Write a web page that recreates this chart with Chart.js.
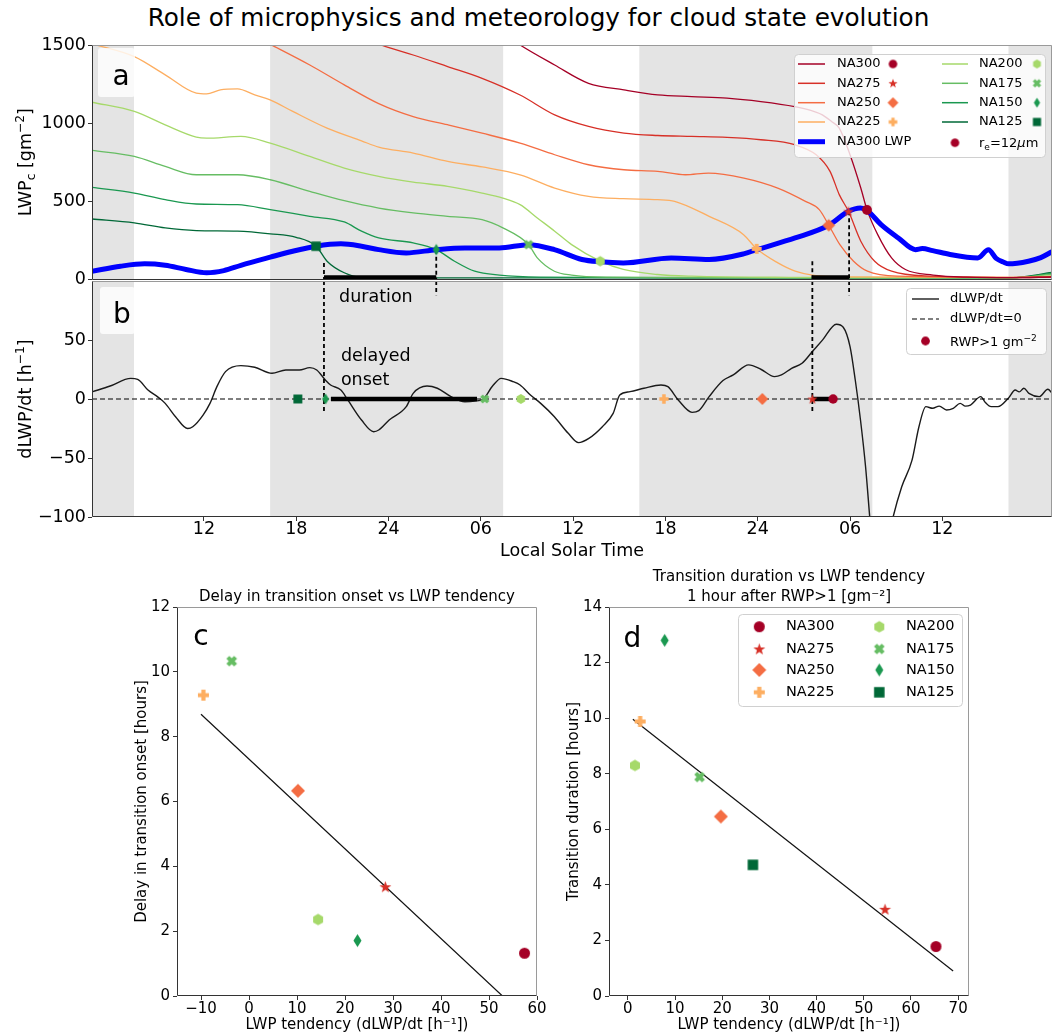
<!DOCTYPE html>
<html>
<head>
<meta charset="utf-8">
<title>Cloud state evolution</title>
<script src="https://cdn.jsdelivr.net/npm/chart.js@4.4.2/dist/chart.umd.min.js"></script>
<style>
  body { margin: 0; background: #fff; }
  #page { position: relative; width: 1059px; height: 1036px; overflow: hidden; font-family: "DejaVu Sans", sans-serif; }
  #title { position: absolute; left: 9px; top: 3px; width: 1059px; text-align: center; font-size: 24.7px; line-height: 30px; color: #000; white-space: nowrap; }
  canvas { position: absolute; }
</style>
</head>
<body>
<div id="page">
  <div id="title">Role of microphysics and meteorology for cloud state evolution</div>
  <canvas id="chartB" width="1059" height="299" style="left:0;top:266px"></canvas>
  <canvas id="chartA" width="1059" height="262" style="left:0;top:30px"></canvas>
  <canvas id="chartC" width="440" height="451" style="left:120px;top:585px"></canvas>
  <canvas id="chartD" width="499" height="476" style="left:560px;top:560px"></canvas>
</div>
<script>
// ================================================================
//   DATA  (hours counted from 00 LST of the first day)
// ================================================================
const naNames  = ["NA300", "NA275", "NA250", "NA225", "NA200", "NA175", "NA150", "NA125"];
const naColors = ["#a50026", "#d73027", "#f46d43", "#fdae61", "#a6d96a", "#66bd63", "#1a9850", "#006837"];
const naShapes = ["o", "*", "D", "P", "h", "X", "d", "s"];

const hourMin = 4.72, hourMax = 67.13;
const tickHours = [12, 18, 24, 30, 36, 42, 48, 54, 60];
const tickText  = ["12", "18", "24", "06", "12", "18", "24", "06", "12"];
const nightStart = [4.72, 16.3, 40.3, 64.3];
const nightEnd   = [7.45, 31.45, 55.45, 67.13];

// cloud LWP of each run [g m-2]
const na300Hr  = [30.5, 32.55, 34.8, 37.0, 39.3, 41.5, 43.7, 46.0, 48.2, 50.4, 51.5, 52.2, 52.8, 53.3, 54.0, 54.7, 55.1, 55.8, 56.7, 57.6, 59.4, 61.6, 64.5, 67.13];
const na300Lwp = [1640, 1500, 1372, 1255, 1213, 1181, 1170, 1160, 1138, 1106, 1080, 1053, 1010, 968, 798, 585, 447, 287, 138, 64, 28, 15, 12, 16];
const na275Hr  = [21.5, 23.36, 25.6, 27.84, 30.08, 32.55, 34.8, 37.0, 39.3, 41.5, 43.7, 46.0, 48.2, 50.4, 51.8, 52.7, 53.3, 53.9, 54.7, 55.6, 56.7, 59.4, 64.5, 67.13];
const na275Lwp = [1560, 1504, 1436, 1362, 1287, 1180, 1053, 979, 936, 921, 915, 909, 894, 862, 798, 692, 543, 436, 245, 117, 53, 21, 12, 16];
const na250Hr  = [15.0, 16.31, 18.88, 21.12, 23.36, 25.6, 27.84, 30.08, 32.55, 34.8, 37.0, 39.3, 41.5, 43.3, 44.8, 47.1, 49.3, 51.1, 52.0, 52.62, 53.34, 54.23, 55.13, 57.1, 64.5, 67.13];
const na250Lwp = [1570, 1504, 1372, 1245, 1125, 1042, 990, 936, 872, 798, 734, 702, 692, 670, 681, 649, 585, 500, 447, 347, 223, 117, 53, 21, 14, 18];
const na225Hr  = [4.72, 7.47, 9.48, 11.5, 12.17, 13.06, 14.18, 15.3, 16.3, 17.77, 20.0, 22.24, 23.36, 25.6, 27.85, 30.09, 32.55, 34.8, 37.0, 39.26, 41.49, 42.6, 44.84, 47.08, 47.93, 49.31, 50.43, 51.55, 53.8, 64.5, 67.13];
const na225Lwp = [1508, 1426, 1309, 1192, 1187, 1213, 1219, 1181, 1149, 1075, 968, 887, 847, 809, 755, 720, 670, 585, 532, 517, 511, 500, 404, 287, 196, 106, 53, 28, 17, 13, 20];
const na200Hr  = [4.72, 7.47, 9.48, 11.5, 12.17, 14.4, 16.31, 18.88, 21.12, 23.36, 25.6, 27.84, 30.08, 31.43, 32.55, 33.67, 34.8, 35.9, 37.76, 39.26, 41.49, 43.7, 50.0, 64.5, 67.13];
const na200Lwp = [1134, 1075, 989, 911, 904, 915, 872, 787, 713, 660, 623, 596, 553, 521, 479, 394, 309, 223, 117, 64, 32, 21, 14, 12, 25];
const na175Hr  = [4.72, 7.47, 9.48, 11.5, 14.18, 16.31, 18.88, 21.12, 23.36, 25.6, 27.84, 30.08, 31.43, 33.1, 33.67, 34.78, 35.9, 38.1, 50.0, 64.5, 67.13];
const na175Lwp = [826, 787, 723, 670, 670, 638, 564, 504, 457, 426, 404, 383, 330, 223, 138, 53, 28, 15, 10, 11, 35];
const na150Hr  = [4.72, 7.47, 9.48, 11.5, 14.18, 16.31, 18.88, 21.12, 22.24, 23.36, 25.6, 27.1, 28.29, 29.6, 31.2, 33.85, 45.0, 64.5, 67.13];
const na150Lwp = [589, 553, 511, 483, 479, 447, 404, 368, 309, 266, 234, 191, 117, 53, 28, 15, 10, 11, 40];
const na125Hr  = [4.72, 7.47, 9.48, 11.5, 14.18, 16.31, 17.99, 19.29, 20.0, 21.12, 22.24, 30.0, 64.5, 67.13];
const na125Lwp = [387, 362, 330, 313, 309, 292, 270, 213, 117, 43, 15, 10, 11, 45];

const lineHr  = [na300Hr, na275Hr, na250Hr, na225Hr, na200Hr, na175Hr, na150Hr, na125Hr];
const lineLwp = [na300Lwp, na275Lwp, na250Lwp, na225Lwp, na200Lwp, na175Lwp, na150Lwp, na125Lwp];

// total LWP of NA300
const lwp300Hr = [4.72, 6.57, 8.14, 9.48, 10.83, 12.17, 13.29, 14.4, 16.31, 17.77, 19.29, 20.9, 22.24, 23.36, 25.15, 27.1, 28.96, 31.2, 33.1, 34.78, 36.57, 37.76, 39.26, 42.38, 44.84, 47.08, 47.93, 50.43, 52.62, 53.9, 54.68, 55.13, 56.02, 57.14, 58.25, 58.7, 59.37, 60.5, 61.6, 62.3, 63.0, 63.5, 64.0, 64.3, 65.6, 66.4, 67.13];
const lwp300   = [53, 85, 100, 91, 64, 43, 57, 91, 143, 181, 213, 228, 213, 191, 170, 191, 202, 202, 223, 191, 128, 113, 106, 138, 128, 164, 191, 266, 347, 436, 457, 440, 351, 266, 191, 198, 185, 160, 143, 138, 190, 135, 110, 100, 117, 140, 178];

// time and LWP at which r_e = 12 um
const reHour = [55.1, 53.9, 52.62, 47.93, 37.76, 33.1, 27.1, 19.29];
const reLwp  = [445, 436, 347, 196, 117, 223, 191, 213];

// NA300 LWP tendency [h-1]
const tendHr = [4.72, 5.9, 7.24, 7.69, 8.36, 9.03, 9.48, 10.15, 10.94, 11.27, 11.94, 12.39, 12.84, 13.4, 14.4, 15.3, 16.42, 17.32, 18.2, 18.88, 19.33, 19.89, 20.23, 20.9, 21.35, 22.24, 23.03, 23.36, 24.04, 25.15, 25.6, 26.5, 27.17, 28.06, 28.96, 30.08, 30.76, 31.32, 32.1, 32.55, 33.22, 33.89, 34.78, 35.68, 36.35, 37.02, 37.9, 38.6, 39.03, 39.7, 40.6, 41.71, 42.16, 42.83, 43.73, 44.17, 44.84, 45.74, 46.41, 47.41, 48.2, 49.09, 49.54, 50.2, 50.88, 51.55, 52.22, 53.11, 53.56, 54.0, 54.34, 54.68, 55.01, 55.28, 55.6, 56.3, 56.8, 57.36, 58.03, 58.48, 58.93, 59.37, 59.8, 60.27, 60.71, 61.16, 61.5, 61.83, 62.5, 62.8, 63.17, 63.62, 64.29, 64.74, 65.0, 65.3, 65.63, 66.3, 66.86, 67.13];
const tendVal = [6, 11, 17.5, 16.7, 7.6, 1.4, -3.7, -15, -25, -23.5, -13.6, -3.7, 10.5, 23.2, 28.3, 26.9, 21.8, 24.6, 24.6, 26.6, 24.6, 16.1, 11.9, 7.6, -0.8, -17.8, -27.7, -26.3, -17.8, -6.5, 4.8, 11, 9.1, 2, -2.3, -0.8, 11, 17.5, 14.7, 11.9, 3.4, -3.7, -15, -29.1, -37, -33.4, -23.5, -12.2, 3.4, 6.2, 9.1, 11.9, 10.5, -0.8, -11.3, -9.9, 2, 15.6, 20.4, 28.9, 25.2, 19, 20.4, 26, 30.3, 40.2, 50.1, 63.4, 60.8, 44.4, 16.1, -17.8, -57.4, -100, -150, -130, -100, -74.4, -51.8, -23.5, -6.5, -7.9, -6, -9.3, -7.9, -3.7, -6, -5.1, 2, -3, -6.5, -6.5, 0.6, 7.6, 6, 9.1, 4.8, 2, 8.2, 5];

// time at which RWP > 1 g m-2
const onsetHour = [52.9, 51.55, 48.3, 41.9, 32.6, 30.25, 19.9, 18.1];

// guide lines and bars (NA150 and NA275 examples)
const guideHr      = [19.8, 27.1, 51.55, 53.94];
const guideTopLwp  = [106, 191, 117, 436];
const guideLowTend = [-11, 88, -12, 88];
const durStart   = [19.8, 51.55], durEnd   = [27.1, 53.94];
const delayStart = [20.25, 51.55], delayEnd = [29.75, 52.9];

// panel c: delay in onset vs tendency (no NA125 point)
const delayTend  = [57.4, 28.4, 10.2, -9.5, 14.4, -3.6, 22.6, null];
const delayHours = [1.32, 3.37, 6.33, 9.28, 2.36, 10.33, 1.71, null];
const fitCX = [-10, 52.8], fitCY = [8.69, 0];

// panel d: transition duration vs tendency
const durTend  = [65.3, 54.5, 19.7, 2.6, 1.5, 15.2, 7.8, 26.5];
const durHours = [1.78, 3.12, 6.46, 9.88, 8.3, 7.88, 12.8, 4.72];
const fitDX = [1.06, 68.94], fitDY = [9.96, 0.9];

// ================================================================
//   HELPERS
// ================================================================
Chart.defaults.font.family = '"DejaVu Sans", sans-serif';
Chart.defaults.color = "#000";
Chart.defaults.animation = false;

const FONT = '"DejaVu Sans", sans-serif';
const pts = (xs, ys) => xs.map((x, i) => ({ x, y: ys[i] })).filter(p => p.x !== null && p.y !== null);
const minus = v => String(v).replace("-", "\u2212");

// filled matplotlib-like markers as small canvases
function makeMarker(shape, color, k) {
  const base = { o: 11, s: 10.5, D: 14, d: 13, "*": 12.5, P: 11, X: 11, h: 11.5 }[shape] * k;
  const n = Math.ceil(base) + 2;
  const c = document.createElement("canvas");
  c.width = c.height = n;
  const g = c.getContext("2d");
  g.translate(n / 2, n / 2);
  g.fillStyle = color;
  const r = base / 2;
  g.beginPath();
  const poly = p => p.forEach(([x, y], i) => i ? g.lineTo(x, y) : g.moveTo(x, y));
  if (shape === "o") g.arc(0, 0, r, 0, Math.PI * 2);
  else if (shape === "s") g.rect(-r, -r, 2 * r, 2 * r);
  else if (shape === "D") poly([[0, -r], [r, 0], [0, r], [-r, 0]]);
  else if (shape === "d") poly([[0, -r], [r * 0.62, 0], [0, r], [-r * 0.62, 0]]);
  else if (shape === "h") poly([0, 1, 2, 3, 4, 5].map(i => [r * Math.cos(-Math.PI / 2 + i * Math.PI / 3), r * Math.sin(-Math.PI / 2 + i * Math.PI / 3)]));
  else if (shape === "*") poly([...Array(10).keys()].map(i => {
    const a = -Math.PI / 2 + i * Math.PI / 5, rr = i % 2 ? r * 0.4 : r;
    return [rr * Math.cos(a), rr * Math.sin(a) + r * 0.08];
  }));
  else {
    const w = r * 0.38;
    let p = [[-w, -r], [w, -r], [w, -w], [r, -w], [r, w], [w, w], [w, r], [-w, r], [-w, w], [-r, w], [-r, -w], [-w, -w]];
    if (shape === "X") {
      const cs = Math.SQRT1_2;
      p = p.map(([x, y]) => [(x - y) * cs, (x + y) * cs]);
    }
    poly(p);
  }
  g.closePath();
  g.fill();
  return c;
}
function putMarker(ctx, m, x, y) { ctx.drawImage(m, x - m.width / 2, y - m.height / 2); }

// text with sub/superscripts; parts = [{t, sub|sup}]
function drawRich(ctx, x, y, parts, size, opts = {}) {
  ctx.save();
  ctx.translate(x, y);
  if (opts.rotate) ctx.rotate(-Math.PI / 2);
  ctx.fillStyle = "#000";
  ctx.textBaseline = opts.baseline || "alphabetic";
  ctx.textAlign = "left";
  const fontOf = p => `${p.italic ? "italic " : ""}${(p.sub || p.sup) ? size * 0.7 : size}px ${FONT}`;
  let total = 0;
  parts.forEach(p => { ctx.font = fontOf(p); total += ctx.measureText(p.t).width; });
  let cx = opts.align === "left" ? 0 : -total / 2;
  parts.forEach(p => {
    ctx.font = fontOf(p);
    const dy = p.sub ? size * 0.22 : p.sup ? -size * 0.42 : 0;
    ctx.fillText(p.t, cx, dy);
    cx += ctx.measureText(p.t).width;
  });
  ctx.restore();
}

function shadeNights(chart) {
  const { ctx, chartArea: a, scales: { x } } = chart;
  ctx.save();
  ctx.fillStyle = "#e4e4e4";
  nightStart.forEach((s, i) => {
    const x1 = Math.max(x.getPixelForValue(s), a.left);
    const x2 = Math.min(x.getPixelForValue(nightEnd[i]), a.right);
    ctx.fillRect(x1, a.top, x2 - x1, a.bottom - a.top);
  });
  ctx.restore();
}

function drawFrame(chart) {
  const { ctx, chartArea: a } = chart;
  const L = Math.round(a.left) + 0.5, R = Math.round(a.right) - 0.5;
  const T = Math.round(a.top) + 0.5, B = Math.round(a.bottom) - 0.5;
  const seg = (x1, y1, x2, y2, c) => {
    ctx.strokeStyle = c; ctx.beginPath(); ctx.moveTo(x1, y1); ctx.lineTo(x2, y2); ctx.stroke();
  };
  ctx.save();
  ctx.lineWidth = 1;
  seg(L, T, R, T, "#9a9a9a");
  seg(R, T, R, B, "#9a9a9a");
  seg(L, T, L, B, "#333");
  seg(L, B, R, B, "#333");
  ctx.restore();
}

function drawTag(ctx, bx, by, bw, bh, letter, tx, ty, boxed) {
  ctx.save();
  if (boxed) {
    ctx.fillStyle = "rgba(255,255,255,0.8)";
    ctx.beginPath();
    ctx.roundRect(bx, by, bw, bh, 3);
    ctx.fill();
  }
  ctx.fillStyle = "#000";
  ctx.font = `28px ${FONT}`;
  ctx.textAlign = "center";
  ctx.textBaseline = "alphabetic";
  ctx.fillText(letter, tx, ty);
  ctx.restore();
}

// subplot title centred over the plot area
function drawTitleLines(chart, lines, firstY, step) {
  const { ctx, chartArea: a } = chart;
  ctx.save();
  ctx.fillStyle = "#000";
  ctx.font = `15px ${FONT}`;
  ctx.textAlign = "center";
  ctx.textBaseline = "middle";
  lines.forEach((t, i) => ctx.fillText(t, (a.left + a.right) / 2, firstY + i * step));
  ctx.restore();
}

function legendBox(ctx, x, y, w, h) {
  ctx.save();
  ctx.fillStyle = "rgba(255,255,255,0.8)";
  ctx.strokeStyle = "#d0d0d0";
  ctx.lineWidth = 1;
  ctx.beginPath();
  ctx.roundRect(x + 0.5, y + 0.5, w, h, 4);
  ctx.fill();
  ctx.stroke();
  ctx.restore();
}

function legendLine(ctx, x1, x2, y, color, width, dash) {
  ctx.save();
  ctx.strokeStyle = color;
  ctx.lineWidth = width;
  ctx.setLineDash(dash || []);
  ctx.beginPath(); ctx.moveTo(x1, y); ctx.lineTo(x2, y); ctx.stroke();
  ctx.restore();
}

function legendText(ctx, text, x, y, size) {
  ctx.save();
  ctx.fillStyle = "#000";
  ctx.font = `${size}px ${FONT}`;
  ctx.textAlign = "left";
  ctx.textBaseline = "middle";
  ctx.fillText(text, x, y);
  ctx.restore();
}

const tickGrid = { drawOnChartArea: false, drawTicks: true, tickLength: 4, tickWidth: 1, tickColor: "#333" };

function hourAxis(show) {
  const ax = {
    type: "linear", min: hourMin, max: hourMax, display: show,
    afterBuildTicks: s => { s.ticks = tickHours.map(v => ({ value: v })); },
    ticks: { callback: v => tickText[tickHours.indexOf(v)], font: { size: 17.5, lineHeight: 1 }, padding: 0, maxRotation: 0, autoSkip: false },
    grid: tickGrid, border: { display: false },
    title: { display: show, text: "Local Solar Time", font: { size: 17.5, lineHeight: 1.2 }, padding: { top: 0, bottom: 3.5 } }
  };
  if (show) ax.afterFit = s => { s.height = 48; };
  return ax;
}

function valueAxis(min, max, list, width, size, pad, title, titlePad) {
  return {
    type: "linear", min, max,
    afterBuildTicks: s => { s.ticks = list.map(v => ({ value: v })); },
    afterFit: s => { s.width = width; },
    ticks: { callback: v => minus(v), font: { size }, padding: pad },
    grid: tickGrid, border: { display: false },
    title: title ? { display: true, text: title, font: { size: 15, lineHeight: 1.2 }, padding: { top: titlePad, bottom: 0 } } : { display: false }
  };
}

function tendAxis(min, max, list) {
  return Object.assign(valueAxis(min, max, list, 0, 15, 0.5, null), {
    afterFit: s => { s.height = 40; },
    title: { display: true, text: "LWP tendency (dLWP/dt [h\u207b\u00b9])", font: { size: 15, lineHeight: 1.2 }, padding: { top: 0, bottom: 1.5 } }
  });
}

function lineSet(data, color, width, extra) {
  return Object.assign({ type: "line", data, borderColor: color, borderWidth: width, pointRadius: 0, fill: false }, extra || {});
}

const noPlugins = { legend: { display: false }, tooltip: { enabled: false }, title: { display: false } };

// ================================================================
//   PANEL A — cloud LWP
// ================================================================
const markA = naShapes.map((s, i) => makeMarker(s, naColors[i], 0.9));
const dsA = [];
lineHr.forEach((hr, i) => dsA.push(lineSet(pts(hr, lineLwp[i]), naColors[i], 1.3, { cubicInterpolationMode: "monotone", order: 3 })));
dsA.push(lineSet(pts(lwp300Hr, lwp300), "#0000ff", 5, { cubicInterpolationMode: "monotone", order: 2 }));
durStart.forEach((s, i) => dsA.push(lineSet([{ x: s, y: 12 }, { x: durEnd[i], y: 12 }], "#000", 4.5, { order: 1, clip: false })));
guideHr.forEach((h, i) => dsA.push(lineSet([{ x: h, y: guideTopLwp[i] }, { x: h, y: 0 }], "#000", 1.8, { borderDash: [4, 3], order: 1 })));
dsA.push(lineSet(pts(reHour, reLwp), "#000", 0, { showLine: false, pointRadius: 5, pointStyle: markA, order: 0 }));

const panelA = {
  id: "panelA",
  beforeDatasetsDraw: shadeNights,
  afterDatasetsDraw(chart) {
    const ctx = chart.ctx, a = chart.chartArea;
    drawFrame(chart);
    drawTag(ctx, 98, 18, 37, 49, "a", 121, 55, true);
    drawRich(ctx, 31, (a.top + a.bottom) / 2,
      [{ t: "LWP" }, { t: "c", sub: true }, { t: " [gm" }, { t: "\u22122", sup: true }, { t: "]" }], 17.5, { rotate: true });
    // legend
    legendBox(ctx, 794, 24, 251, 103);
    const rows = [34, 53.3, 72.7, 92, 111.7];
    const legMark = naShapes.map((s, i) => makeMarker(s, naColors[i], 0.78));
    for (let i = 0; i < 4; i++) {
      legendLine(ctx, 798, 825, rows[i], naColors[i], 1.5);
      legendText(ctx, naNames[i], 837, rows[i], 13);
      putMarker(ctx, legMark[i], 893, rows[i]);
      legendLine(ctx, 942, 968, rows[i], naColors[i + 4], 1.5);
      legendText(ctx, naNames[i + 4], 979, rows[i], 13);
      putMarker(ctx, legMark[i + 4], 1037, rows[i]);
    }
    legendLine(ctx, 798, 825, rows[4], "#0000ff", 5);
    legendText(ctx, "NA300 LWP", 837, rows[4], 13);
    putMarker(ctx, legMark[0], 955, rows[4] + 1);
    drawRich(ctx, 979, rows[4] + 5, [{ t: "r" }, { t: "e", sub: true }, { t: "=12" }, { t: "\u03bc", italic: true }, { t: "m" }], 13, { align: "left" });
  }
};

new Chart(document.getElementById("chartA"), {
  type: "line",
  data: { datasets: dsA },
  options: {
    responsive: false, animation: false, events: [],
    layout: { padding: { top: 15, right: 7, bottom: 11, left: 0 } },
    plugins: noPlugins,
    scales: {
      x: hourAxis(false),
      y: valueAxis(0, 1500, [0, 500, 1000, 1500], 92, 17.5, 2, null)
    }
  },
  plugins: [panelA]
});

// ================================================================
//   PANEL B — LWP tendency
// ================================================================
const markB = naShapes.map((s, i) => makeMarker(s, naColors[i], 0.85));
const dsB = [];
dsB.push(lineSet(pts(tendHr, tendVal), "#1a1a1a", 1.4, { cubicInterpolationMode: "monotone", order: 3 }));
dsB.push(lineSet([{ x: hourMin, y: 0 }, { x: hourMax, y: 0 }], "#000", 1.2, { borderDash: [5, 3], order: 2 }));
delayStart.forEach((s, i) => dsB.push(lineSet([{ x: s, y: 0 }, { x: delayEnd[i], y: 0 }], "#000", 4.5, { order: 1 })));
guideHr.forEach((h, i) => dsB.push(lineSet([{ x: h, y: 100 }, { x: h, y: guideLowTend[i] }], "#000", 1.8, { borderDash: [4, 3], order: 1 })));
dsB.push(lineSet(onsetHour.map(h => ({ x: h, y: 0 })), "#000", 0, { showLine: false, pointRadius: 5, pointStyle: markB, order: 0 }));

const panelB = {
  id: "panelB",
  beforeDatasetsDraw: shadeNights,
  afterDatasetsDraw(chart) {
    const ctx = chart.ctx, a = chart.chartArea, { x, y } = chart.scales;
    drawFrame(chart);
    drawTag(ctx, 100, 21, 35, 47, "b", 122, 57, true);
    drawRich(ctx, 31, (a.top + a.bottom) / 2,
      [{ t: "dLWP/dt [h" }, { t: "\u22121", sup: true }, { t: "]" }], 17.5, { rotate: true });
    // annotations
    legendText(ctx, "duration", x.getPixelForValue(20.78), y.getPixelForValue(85.7), 17.5);
    legendText(ctx, "delayed", x.getPixelForValue(20.9), y.getPixelForValue(35.7), 17.5);
    legendText(ctx, "onset", x.getPixelForValue(20.9), y.getPixelForValue(16.1), 17.5);
    // legend
    legendBox(ctx, 906, 22, 140, 66);
    legendLine(ctx, 912, 939, 33, "#1a1a1a", 1.4);
    legendText(ctx, "dLWP/dt", 950, 33, 13);
    legendLine(ctx, 912, 939, 53, "#000", 1.2, [5, 3]);
    legendText(ctx, "dLWP/dt=0", 950, 53, 13);
    putMarker(ctx, makeMarker("o", naColors[0], 0.8), 925.5, 75);
    drawRich(ctx, 950, 80, [{ t: "RWP>1 gm" }, { t: "\u22122", sup: true }], 13, { align: "left" });
  }
};

new Chart(document.getElementById("chartB"), {
  type: "line",
  data: { datasets: dsB },
  options: {
    responsive: false, animation: false, events: [],
    layout: { padding: { top: 15, right: 7, bottom: 0, left: 0 } },
    plugins: noPlugins,
    scales: {
      x: hourAxis(true),
      y: valueAxis(-100, 100, [-100, -50, 0, 50], 92, 17.5, 2, null)
    }
  },
  plugins: [panelB]
});

// ================================================================
//   PANEL C — delay in onset
// ================================================================
const markCD = naShapes.map((s, i) => makeMarker(s, naColors[i], 1));
const cIdx = delayTend.map((v, i) => i).filter(i => delayTend[i] !== null);

new Chart(document.getElementById("chartC"), {
  type: "line",
  data: {
    datasets: [
      lineSet(pts(fitCX, fitCY), "#111", 1.2, { order: 1 }),
      lineSet(cIdx.map(i => ({ x: delayTend[i], y: delayHours[i] })), "#000", 0,
        { showLine: false, pointRadius: 5, pointStyle: cIdx.map(i => markCD[i]), order: 0 })
    ]
  },
  options: {
    responsive: false, animation: false, events: [],
    layout: { padding: { top: 22, right: 23, bottom: 0, left: 0 } },
    plugins: noPlugins,
    scales: {
      x: tendAxis(-15, 60, [-10, 0, 10, 20, 30, 40, 50, 60]),
      y: valueAxis(0, 12, [0, 2, 4, 6, 8, 10, 12], 57, 15, 3, "Delay in transition onset [hours]", 13)
    }
  },
  plugins: [{
    id: "panelC",
    afterDatasetsDraw(chart) {
      drawFrame(chart);
      drawTitleLines(chart, ["Delay in transition onset vs LWP tendency"], 12, 0);
      drawTag(chart.ctx, 0, 0, 0, 0, "c", 81, 60, false);
    }
  }]
});

// ================================================================
//   PANEL D — transition duration
// ================================================================
new Chart(document.getElementById("chartD"), {
  type: "line",
  data: {
    datasets: [
      lineSet(pts(fitDX, fitDY), "#111", 1.2, { order: 1 }),
      lineSet(pts(durTend, durHours), "#000", 0, { showLine: false, pointRadius: 5, pointStyle: markCD, order: 0 })
    ]
  },
  options: {
    responsive: false, animation: false, events: [],
    layout: { padding: { top: 47, right: 90, bottom: 0, left: 0 } },
    plugins: noPlugins,
    scales: {
      x: tendAxis(-4, 72.3, [0, 10, 20, 30, 40, 50, 60, 70]),
      y: valueAxis(0, 14, [0, 2, 4, 6, 8, 10, 12, 14], 49, 15, 3, "Transition duration [hours]", 5)
    }
  },
  plugins: [{
    id: "panelD",
    afterDatasetsDraw(chart) {
      const ctx = chart.ctx;
      drawFrame(chart);
      drawTitleLines(chart, ["Transition duration vs LWP tendency", "1 hour after RWP>1 [gm\u207b\u00b2]"], 17, 20);
      drawTag(ctx, 0, 0, 0, 0, "d", 72.5, 87, false);
      legendBox(ctx, 178, 54, 224, 92);
      const rows = [66.7, 89, 110, 132.3];
      for (let i = 0; i < 4; i++) {
        putMarker(ctx, markCD[i], 199.3, rows[i]);
        legendText(ctx, naNames[i], 226, rows[i], 14.5);
        putMarker(ctx, markCD[i + 4], 319.3, rows[i]);
        legendText(ctx, naNames[i + 4], 346, rows[i], 14.5);
      }
    }
  }]
});
</script>
</body>
</html>
